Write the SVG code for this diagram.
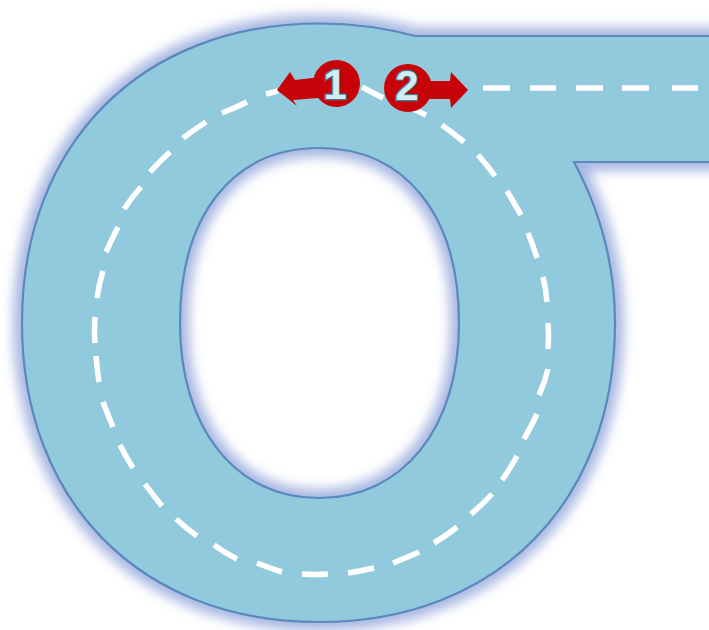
<svg xmlns="http://www.w3.org/2000/svg" width="709" height="630" viewBox="0 0 709 630">
<defs>
<filter id="glow" x="-10%" y="-10%" width="120%" height="120%"><feGaussianBlur stdDeviation="6"/></filter>
<path id="road" fill-rule="evenodd" d="M725,36 L415,36 C385,28 350,23.500 320,23.500 C141,23.500 22,144 22,323 C22,502 141,622 319,622 C497,622 615,502 615,323 C615,260 597,205 574,162 L725,162 Z M319,148 C233,148 180,215 180,323 C180,428 235,498 319,498 C403,498 459,428 459,323 C459,215 405,148 319,148 Z"/>
</defs>
<style>
.lane{fill:none;stroke:#fff;stroke-width:5.5}
.badge{fill:#c80209}
.num{font-family:"Liberation Sans",Arial,sans-serif;font-size:42px;font-weight:700;fill:#d2edf4;stroke:#3c7f93;stroke-width:2.4;paint-order:stroke;text-anchor:middle}
</style>
<rect width="709" height="630" fill="#fff"/>
<g id="road-shape">
<use href="#road" fill="#a8b8e2" stroke="#a8b8e2" stroke-width="18" filter="url(#glow)"/>
<use href="#road" fill="#92cadd" stroke="#5b88bd" stroke-width="2.2"/>
</g>
<g id="connectors">
<path class="lane" d="M266,94L278,91M222,113Q235,108 247,102M183,138Q195,129 206,122M150,172Q160,161 170,152M124,209Q132,197 141,187M106,252Q112,239 118,227M97,298Q99,284 103,271M95,317Q94,330 95,343M96,356Q97,369 99,382M103,402Q108,415 113,427M120,445Q126,457 133,468M145,484Q153,495 162,506M176,519Q186,528 197,536M214,545Q225,553 237,559M257,563Q269,568 282,572M302,574Q315,575 328,574M348,573Q361,571 374,568M393,563Q406,558 419,552M434,543Q446,536 457,527M471,514Q482,505 492,494M502,480Q510,469 517,456M524,439Q531,427 537,414M539,395Q545,382 548,369M548,349Q549,336 548,323M547,302Q546,289 543,277M537,258Q533,245 528,233M521,215Q514,203 507,191M495,176Q487,165 478,155M464,142Q453,133 442,125M426,115L405,105M383,98L362,87M483,88H510M530,88H556M576,88H603M622,88H649M672,88H698"/>
</g>
<g id="node-1">
<path class="badge" d="M277,90 L290,72 L295,80 L330,76 L330,97 L293,100 L297,106 Z"/>
<circle class="badge" cx="336.500" cy="83.500" r="23.500"/>
<text class="num" x="335" y="99">1</text>
</g>
<g id="node-2">
<path class="badge" d="M468,90 L451,72 L450,81 L410,81 L410,99 L450,99 L451,108 Z"/>
<circle class="badge" cx="408" cy="88" r="24"/>
<text class="num" x="407" y="100">2</text>
</g>
</svg>
